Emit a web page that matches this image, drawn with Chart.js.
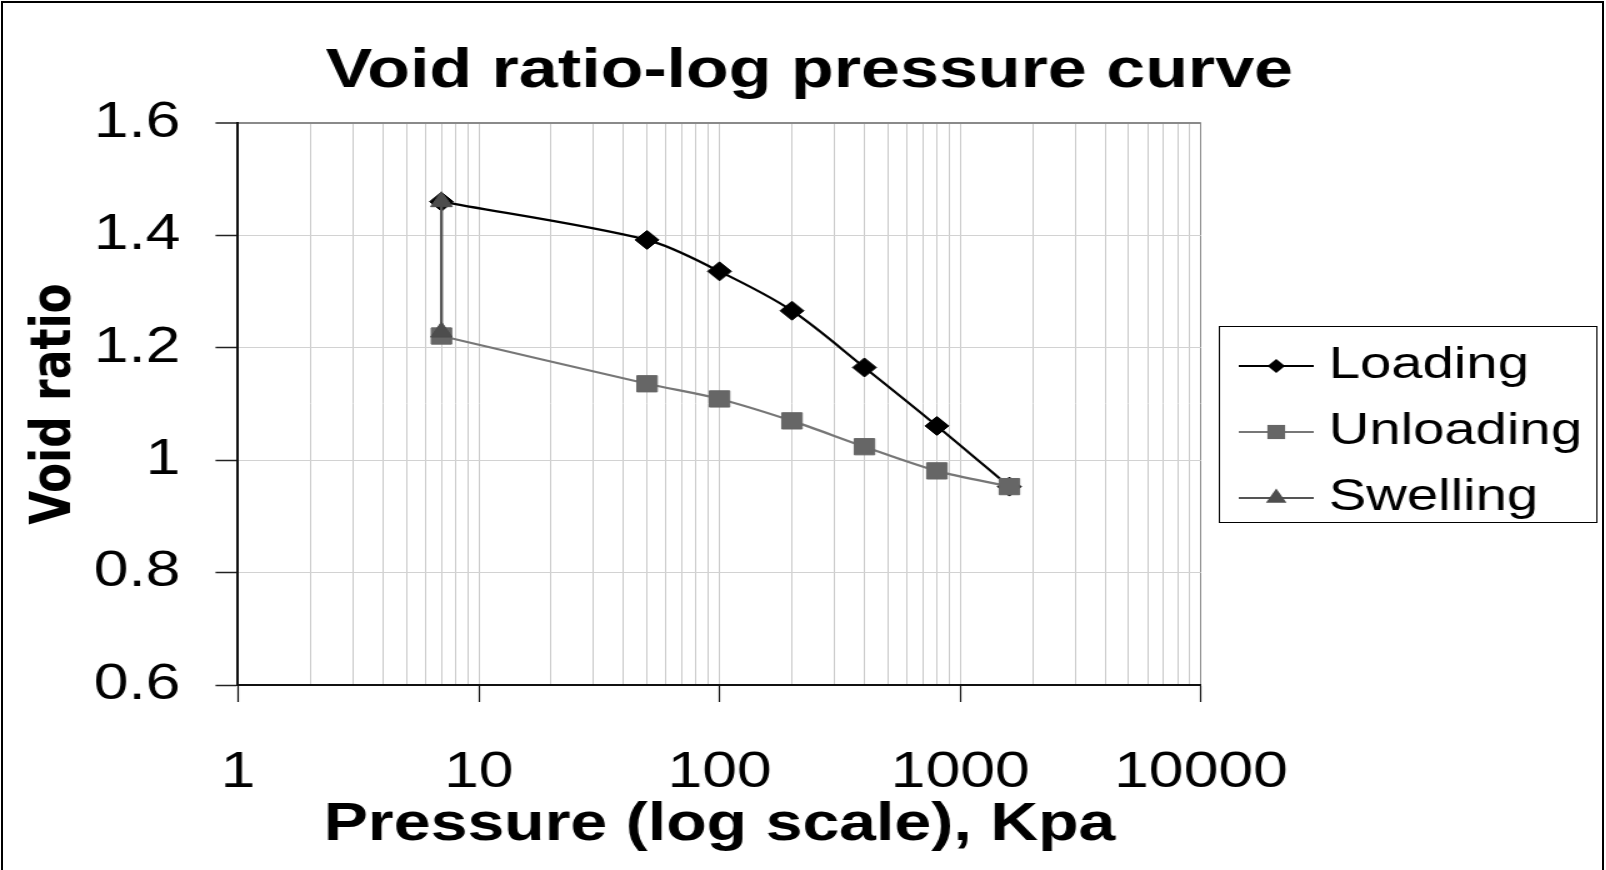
<!DOCTYPE html>
<html>
<head>
<meta charset="utf-8">
<script src="https://cdn.jsdelivr.net/npm/chart.js@4.4.1/dist/chart.umd.min.js"></script>
<style>
  html, body { margin:0; padding:0; background:#fff; width:1606px; height:870px; overflow:hidden; }
  #wrap { position:absolute; left:0; top:0; width:1285px; height:870px; transform:scaleX(1.25); transform-origin:0 0; }
  #frame { position:absolute; left:1px; top:1px; width:1603px; height:890px; border:2px solid #000; box-sizing:border-box; pointer-events:none; }
</style>
</head>
<body>
<div id="wrap"><canvas id="c"></canvas></div>
<div id="frame"></div>
<script>
// ---- data ----
const seriesNames = ['Loading', 'Unloading', 'Swelling'];
const loadingPressure = [7, 50, 100, 200, 400, 800, 1600];
const loadingVoid = [1.46, 1.392, 1.336, 1.266, 1.165, 1.061, 0.953];
const unloadingPressure = [1600, 800, 400, 200, 100, 50, 7];
const unloadingVoid = [0.953, 0.981, 1.024, 1.070, 1.109, 1.136, 1.221];
const swellingPressure = [7, 7];
const swellingVoid = [1.228, 1.46];

const xTickValues = [1,2,3,4,5,6,7,8,9,10,20,30,40,50,60,70,80,90,100,200,300,400,500,600,700,800,900,1000,2000,3000,4000,5000,6000,7000,8000,9000,10000];
const xTickLabels = {1:'1', 10:'10', 100:'100', 1000:'1000', 10000:'10000'};
const yTickValues = [0.6, 0.8, 1, 1.2, 1.4, 1.6];
const yTickLabels = ['0.6', '0.8', '1', '1.2', '1.4', '1.6'];

const chartTitle = 'Void ratio-log pressure curve';
const xTitle = 'Pressure (log scale), Kpa';
const yTitle = 'Void ratio';

const FONT = '"Liberation Sans", Arial, Helvetica, sans-serif';
const YTITLE_FONT = '"DejaVu Sans", "Liberation Sans", Arial, sans-serif';

function pts(xs, ys) { return xs.map((x, i) => ({ x: x, y: ys[i] })); }

function markerPath(ctx, style, x, y, r) {
  ctx.beginPath();
  if (style === 'rectRot') {
    ctx.moveTo(x - r, y); ctx.lineTo(x, y - r); ctx.lineTo(x + r, y); ctx.lineTo(x, y + r);
  } else if (style === 'rect') {
    const s = Math.SQRT1_2 * r;
    ctx.rect(x - s, y - s, 2 * s, 2 * s);
  } else if (style === 'triangle') {
    ctx.moveTo(x, y - r);
    ctx.lineTo(x + Math.sin(2 * Math.PI / 3) * r, y - Math.cos(2 * Math.PI / 3) * r);
    ctx.lineTo(x + Math.sin(4 * Math.PI / 3) * r, y - Math.cos(4 * Math.PI / 3) * r);
  }
  ctx.closePath();
}

const customLegend = {
  id: 'customLegend',
  afterDraw(chart) {
    const ctx = chart.ctx;
    const bx = 975.5, by = 326.5, bw = 302, bh = 196;
    ctx.save();
    ctx.fillStyle = '#fff';
    ctx.fillRect(bx, by, bw, bh);
    ctx.strokeStyle = '#000';
    ctx.lineWidth = 1;
    ctx.strokeRect(bx, by, bw, bh);
    chart.data.datasets.forEach((ds, i) => {
      const cy = 366 + i * 66;
      ctx.strokeStyle = ds.borderColor;
      ctx.lineWidth = 2;
      ctx.beginPath();
      ctx.moveTo(991, cy); ctx.lineTo(1051, cy);
      ctx.stroke();
      markerPath(ctx, ds.pointStyle, 1021, cy, ds.legendRadius);
      ctx.fillStyle = ds.pointBackgroundColor;
      ctx.fill();
      ctx.fillStyle = '#000';
      ctx.font = '45px ' + FONT;
      ctx.textBaseline = 'middle';
      ctx.textAlign = 'left';
      ctx.fillText(ds.label, 1063, cy);
    });
    ctx.restore();
  }
};

new Chart(document.getElementById('c'), {
  type: 'line',
  data: {
    datasets: [
      {
        label: seriesNames[0],
        data: pts(loadingPressure, loadingVoid),
        borderColor: '#000', backgroundColor: '#000',
        pointBackgroundColor: '#000', pointBorderColor: '#000',
        borderWidth: 2.2, pointStyle: 'rectRot', pointRadius: 9.5, pointBorderWidth: 1,
        legendRadius: 7, tension: 0.3, order: 2, fill: false
      },
      {
        label: seriesNames[1],
        data: pts(unloadingPressure, unloadingVoid),
        borderColor: '#777', backgroundColor: '#666',
        pointBackgroundColor: '#666', pointBorderColor: '#666',
        borderWidth: 2.2, pointStyle: 'rect', pointRadius: 11.5, pointBorderWidth: 1,
        legendRadius: 10, tension: 0.3, order: 1, fill: false
      },
      {
        label: seriesNames[2],
        data: pts(swellingPressure, swellingVoid),
        borderColor: '#555', backgroundColor: '#4d4d4d',
        pointBackgroundColor: '#4d4d4d', pointBorderColor: '#4d4d4d',
        borderWidth: 2.4, pointStyle: 'triangle', pointRadius: 10, pointBorderWidth: 1,
        legendRadius: 9.5, tension: 0, order: 0, fill: false
      }
    ]
  },
  options: {
    responsive: true,
    maintainAspectRatio: false,
    animation: false,
    devicePixelRatio: 1,
    layout: { padding: { top: 10, left: 10, right: 0, bottom: 20 } },
    plugins: {
      legend: { display: false },
      tooltip: { enabled: false },
      title: {
        display: true, text: chartTitle, color: '#000',
        font: { family: FONT, size: 56, weight: 'bold', lineHeight: 1.2 },
        padding: { top: 28, bottom: 17.8 }
      }
    },
    scales: {
      x: {
        type: 'logarithmic', position: 'bottom', min: 1, max: 10000,
        afterBuildTicks: (s) => { s.ticks = xTickValues.map(v => ({ value: v, major: !!xTickLabels[v] })); },
        ticks: {
          autoSkip: false, maxRotation: 0, minRotation: 0, padding: 46, color: '#000',
          font: { family: FONT, size: 50, lineHeight: 1.0 },
          callback: (v) => xTickLabels[v] || ''
        },
        grid: {
          display: true, drawOnChartArea: true, drawTicks: true, tickLength: 17, lineWidth: 1,
          color: (c) => (c.tick && c.tick.value === 10000) ? '#8a8a8a' : '#cacaca',
          tickColor: (c) => (c.tick && xTickLabels[c.tick.value]) ? '#111' : 'rgba(0,0,0,0)',
          tickWidth: 1.2
        },
        border: { display: true, color: '#111', width: 2 },
        title: {
          display: true, text: xTitle, color: '#000',
          font: { family: FONT, size: 53, weight: 'bold', lineHeight: 1.0 },
          padding: { top: -45, bottom: -2 }
        }
      },
      y: {
        type: 'linear', position: 'left', min: 0.6, max: 1.6,
        afterBuildTicks: (s) => { s.ticks = yTickValues.map(v => ({ value: v })); },
        ticks: {
          padding: 28, color: '#000',
          font: { family: FONT, size: 50, lineHeight: 1.2 },
          callback: (v) => yTickLabels[yTickValues.indexOf(v)]
        },
        grid: {
          display: true, drawOnChartArea: true, drawTicks: true, tickLength: 18,
          color: (c) => (c.tick && c.tick.value === 1.6) ? '#8a8a8a' : '#d2d2d2',
          lineWidth: (c) => (c.tick && c.tick.value === 1.6) ? 2 : 1,
          tickColor: '#222', tickWidth: 1.5
        },
        border: { display: true, color: '#111', width: 2 },
        title: {
          display: true, text: yTitle, color: '#000',
          font: { family: YTITLE_FONT, size: 44, weight: 'bold', lineHeight: 1.2 },
          padding: { top: 8, bottom: -23.9 }
        }
      },
      yRightSpace: {
        type: 'linear', position: 'right', display: true,
        grid: { display: false, drawTicks: false },
        ticks: { display: false },
        border: { display: false },
        afterFit: (s) => { s.width = 324.2; }
      }
    }
  },
  plugins: [customLegend]
});
</script>
</body>
</html>
